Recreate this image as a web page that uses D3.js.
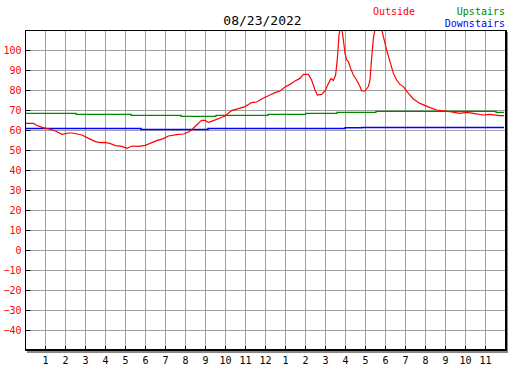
<!DOCTYPE html>
<html><head><meta charset="utf-8">
<script src="https://cdn.jsdelivr.net/npm/d3@7"></script>
<style>
html,body{margin:0;padding:0;background:#fff;}
svg{display:block;}
</style></head>
<body>
<svg id="c" width="527" height="370"></svg>
<script>
const title = "08/23/2022";
const seriesNames = ["Outside", "Upstairs", "Downstairs"];
const seriesColors = ["#ff0000", "#008800", "#0000ff"];
const hourTicks = [1,2,3,4,5,6,7,8,9,10,11,12,13,14,15,16,17,18,19,20,21,22,23];
const hourLabels = ["1","2","3","4","5","6","7","8","9","10","11","12","1","2","3","4","5","6","7","8","9","10","11"];
const tempTicks = [-40,-30,-20,-10,0,10,20,30,40,50,60,70,80,90,100];

const outsideHours = [0,0.43,0.55,0.85,1.27,1.52,1.85,2.18,2.35,2.6,2.85,3.18,3.52,3.77,4.02,4.27,4.52,4.85,5.1,5.35,5.68,6.02,6.25,6.58,6.92,7.17,7.58,7.92,8.17,8.33,8.58,8.83,9.0,9.17,9.42,9.75,10.0,10.33,10.67,11.0,11.33,11.58,11.92,12.25,12.5,12.75,13.0,13.25,13.5,13.75,13.92,14.17,14.33,14.5,14.62,14.83,15.0,15.17,15.3,15.42,15.53,15.62,15.7,15.8,15.92,16.0,16.08,16.17,16.28,16.42,16.58,16.75,16.83,17.0,17.17,17.25,17.33,17.42,17.5,17.65,17.83,17.92,18.08,18.25,18.42,18.58,18.75,18.92,19.17,19.42,19.75,20.25,20.58,21.25,21.75,22.08,22.42,22.92,23.25,23.75,23.95];
const outsideTemps = [63.3,63.3,62.5,61.3,60.3,59.5,57.8,58.5,58.5,58,57.5,55.8,54.2,53.7,53.8,53.2,52.2,51.8,50.8,52,51.8,52.3,53.3,54.7,55.7,57,57.7,58,59,60,62.5,64.8,64.8,63.8,64.7,66,67,69.7,70.7,71.7,73.7,74,76,77.5,78.7,79.5,81.5,82.8,84.5,85.8,87.8,87.8,85,80,77.5,77.8,79.5,83.3,85.8,84.8,87.5,95.8,107.5,113,105,98.3,95,94.2,90.8,87.5,85,81.7,79.5,79.5,81.7,85,95.8,105.8,110.5,113,110.5,106.7,100,94.2,88.3,85,82.8,81.7,78.3,75.5,73.3,71.2,70,69.2,68.3,68.8,68.3,67.5,67.8,67.2,67.2];

const upstairsHours = [0,2.55,5.3,7.8,9.55,12.15,14.03,15.6,17.55,23.55,23.95];
const upstairsTemps = [68.3,67.8,67.3,66.8,67.3,67.8,68.3,68.8,69.3,68.8,68.8];

const downstairsHours = [0,5.8,9.15,16.0,16.85,23.95];
const downstairsTemps = [60.8,60.3,60.8,61.1,61.3,61.3];

const svg = d3.select("#c");
const L = 25, R = 505, T = 30, B = 350;
const x = d3.scaleLinear().domain([0,24]).range([L,R]);
const y = d3.scaleLinear().domain([-50,110]).range([B,T]);
const mono = "'DejaVu Sans Mono', monospace";

// shadow
svg.append("rect").attr("x", L+2).attr("y", T+2).attr("width", R-L+1).attr("height", B-T+1).attr("fill", "#888");
svg.append("rect").attr("x", L).attr("y", T).attr("width", R-L).attr("height", B-T).attr("fill", "#fff");

// grid
const g = svg.append("g");
g.selectAll("line.v").data(hourTicks).join("line")
  .attr("x1", d => x(d)+0.5).attr("x2", d => x(d)+0.5).attr("y1", T).attr("y2", B)
  .attr("stroke", "#a0a0a0").attr("stroke-width", 1);
g.selectAll("line.h").data(tempTicks).join("line")
  .attr("y1", d => y(d)+0.5).attr("y2", d => y(d)+0.5).attr("x1", L).attr("x2", R)
  .attr("stroke", "#a0a0a0").attr("stroke-width", 1);

// clip
svg.append("clipPath").attr("id","pc").append("rect").attr("x", L).attr("y", T).attr("width", R-L).attr("height", B-T);

const lineGen = d3.line().x(d => x(d[0])).y(d => y(d[1]));
const stepGen = d3.line().x(d => x(d[0])).y(d => y(d[1])).curve(d3.curveStepAfter);
const plot = svg.append("g").attr("clip-path", "url(#pc)");
plot.append("path").datum(d3.zip(upstairsHours, upstairsTemps)).attr("d", stepGen)
  .attr("fill","none").attr("stroke", seriesColors[1]).attr("stroke-width", 1.3);
plot.append("path").datum(d3.zip(downstairsHours, downstairsTemps)).attr("d", stepGen)
  .attr("fill","none").attr("stroke", seriesColors[2]).attr("stroke-width", 1.5);
plot.append("path").datum(d3.zip(outsideHours, outsideTemps)).attr("d", lineGen)
  .attr("fill","none").attr("stroke", seriesColors[0]).attr("stroke-width", 1.2);

// frame
svg.append("line").attr("x1", L).attr("x2", R+1).attr("y1", T+0.5).attr("y2", T+0.5).attr("stroke","#000").attr("stroke-width",1);
svg.append("line").attr("x1", L+0.5).attr("x2", L+0.5).attr("y1", T).attr("y2", B+1).attr("stroke","#000").attr("stroke-width",1);
svg.append("line").attr("x1", R+1).attr("x2", R+1).attr("y1", T).attr("y2", B+1).attr("stroke","#000").attr("stroke-width",2);
svg.append("line").attr("x1", L).attr("x2", R+2).attr("y1", B).attr("y2", B).attr("stroke","#000").attr("stroke-width",2);

// axes
const yAxis = d3.axisLeft(y).tickValues(tempTicks).tickSize(-5).tickPadding(4).tickFormat(d3.format("d"));
const ya = svg.append("g").attr("transform", `translate(${L+0.5},0)`).call(yAxis);
ya.select(".domain").remove();
ya.selectAll(".tick line").attr("stroke","#000");
ya.selectAll(".tick text").attr("fill","#ff0000").style("font-family", mono).style("font-size","10px");

const xAxis = d3.axisBottom(x).tickValues(hourTicks).tickSize(-4).tickPadding(7).tickFormat((d,i) => hourLabels[i]);
const xa = svg.append("g").attr("transform", `translate(0,${B})`).call(xAxis);
xa.select(".domain").remove();
xa.selectAll(".tick line").attr("stroke","#000");
xa.selectAll(".tick text").attr("fill","#000").style("font-family", mono).style("font-size","10px");

// title
svg.append("text").attr("x", 262.5).attr("y", 25).attr("text-anchor","middle")
  .style("font-family", mono).style("font-size","13px").attr("fill","#000").text(title);

// legend
svg.append("text").attr("x", 394).attr("y", 15).attr("text-anchor","middle")
  .style("font-family", mono).style("font-size","10px").attr("fill", seriesColors[0]).text(seriesNames[0]);
svg.append("text").attr("x", 505).attr("y", 15).attr("text-anchor","end")
  .style("font-family", mono).style("font-size","10px").attr("fill", seriesColors[1]).text(seriesNames[1]);
svg.append("text").attr("x", 505).attr("y", 27).attr("text-anchor","end")
  .style("font-family", mono).style("font-size","10px").attr("fill", seriesColors[2]).text(seriesNames[2]);
</script>
</body></html>
